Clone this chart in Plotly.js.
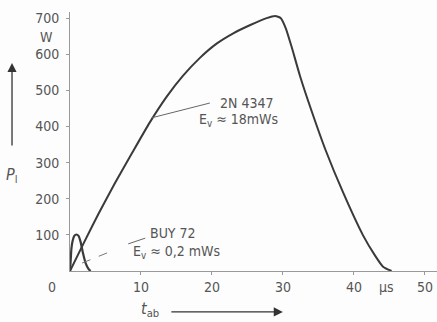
<!DOCTYPE html>
<html><head><meta charset="utf-8">
<script src="https://cdn.plot.ly/plotly-3.0.1.min.js"></script>
<style>html,body{margin:0;padding:0;background:#fdfdfd;}#chart{width:437px;height:322px;}</style>
</head><body><div id="chart"></div>
<script>
// 2N 4347 curve (t in µs, P in W)
const tMain = [0, 2, 4, 6.3, 8.7, 11.2, 13.6, 15.9, 18.3, 20.7, 23, 25.4, 27.7, 28.9, 29.7, 30.4, 31.2, 32.4, 34, 36, 38.5, 41.3, 43, 44.1, 45.3];
const pMain = [0, 80, 158, 242, 325, 410, 482, 540, 590, 630, 658, 681, 700, 706, 700, 672, 622, 540, 445, 335, 216, 98, 42, 12, 0];
// BUY 72 curve
const tBuy = [0, 0.1, 0.2, 0.35, 0.6, 0.9, 1.2, 1.5, 1.8, 2.2, 2.6, 2.9];
const pBuy = [0, 30, 62, 82, 97, 101, 97, 80, 52, 22, 6, 0];
// ticks
const xTicks = [10, 20, 30, 40, 50];
const yTicks = [100, 200, 300, 400, 500, 600, 700];

const FONT = '"DejaVu Sans Condensed", "DejaVu Sans", sans-serif';
const GREY = '#555';
const LINE = '#3a3a3a';

const traces = [
  {x: tMain, y: pMain, mode: 'lines', line: {color: LINE, width: 2, shape: 'spline', smoothing: 0.5}, hoverinfo: 'skip'},
  {x: tBuy, y: pBuy, mode: 'lines', line: {color: LINE, width: 2.2, shape: 'spline', smoothing: 0.6}, hoverinfo: 'skip'}
];

const layout = {
  width: 437, height: 322,
  margin: {l: 70, r: 0, t: 12, b: 51},
  paper_bgcolor: '#fdfdfd', plot_bgcolor: '#fdfdfd',
  showlegend: false,
  font: {family: FONT, size: 14, color: GREY},
  xaxis: {range: [0, 51.7], showgrid: false, zeroline: false, showline: true, linecolor: '#999', linewidth: 1,
          tickmode: 'array', tickvals: xTicks, ticktext: xTicks.map(String), ticks: 'outside', ticklen: 3, tickcolor: '#999',
          tickfont: {family: FONT, size: 14, color: GREY}},
  yaxis: {range: [0, 717], showgrid: false, zeroline: false, showline: true, linecolor: '#999', linewidth: 1,
          tickmode: 'array', tickvals: yTicks, ticktext: yTicks.map(String), ticks: 'outside', ticklen: 3, tickcolor: '#999',
          ticklabelstandoff: 4,
          tickfont: {family: FONT, size: 14, color: GREY}},
  shapes: [
    {type: 'line', xref: 'x', yref: 'y', x0: 11.5, y0: 424, x1: 19.7, y1: 465, line: {color: '#666', width: 1}},
    {type: 'line', xref: 'x', yref: 'y', x0: 1.7, y0: 22, x1: 5.6, y1: 53, line: {color: '#777', width: 1, dash: 'dash'}},
    {type: 'line', xref: 'x', yref: 'y', x0: 8.2, y0: 75, x1: 10.6, y1: 91, line: {color: '#666', width: 1}}
  ],
  annotations: [
    {x: 20.8, y: 465, xref: 'x', yref: 'y', text: '2N 4347', showarrow: false, xanchor: 'left', yanchor: 'middle'},
    {x: 17.9, y: 418, xref: 'x', yref: 'y', text: 'E<sub>v</sub> ≈ 18mWs', showarrow: false, xanchor: 'left', yanchor: 'middle'},
    {x: 11.0, y: 105, xref: 'x', yref: 'y', text: 'BUY 72', showarrow: false, xanchor: 'left', yanchor: 'middle'},
    {x: 8.6, y: 53, xref: 'x', yref: 'y', text: 'E<sub>v</sub> ≈ 0,2 mWs', showarrow: false, xanchor: 'left', yanchor: 'middle'},
    {x: -0.0627, y: 0.9035, xref: 'paper', yref: 'paper', text: 'W', showarrow: false, xanchor: 'center', yanchor: 'middle'},
    {x: -0.049, y: -0.062, xref: 'paper', yref: 'paper', text: '0', showarrow: false, xanchor: 'center', yanchor: 'middle'},
    {x: 44.6, y: -0.062, xref: 'x', yref: 'paper', text: 'µs', showarrow: false, xanchor: 'center', yanchor: 'middle'},
    {x: -0.16, y: 0.37, xref: 'paper', yref: 'paper', text: '<i>P</i><sub>l</sub>', showarrow: false, xanchor: 'center', yanchor: 'middle', font: {size: 16, color: GREY}},
    {x: 0.218, y: -0.147, xref: 'paper', yref: 'paper', text: '<i>t</i><sub>ab</sub>', showarrow: false, xanchor: 'center', yanchor: 'middle', font: {size: 16, color: GREY}},
    {x: -0.158, y: 0.803, xref: 'paper', yref: 'paper', text: '', showarrow: true, arrowhead: 2, arrowsize: 1.4, arrowwidth: 1.3, arrowcolor: '#333', ax: 0, ay: 84},
    {x: 0.580, y: -0.158, xref: 'paper', yref: 'paper', text: '', showarrow: true, arrowhead: 2, arrowsize: 1.4, arrowwidth: 1.3, arrowcolor: '#333', ax: -113, ay: 0}
  ]
};

Plotly.newPlot('chart', traces, layout, {staticPlot: true, displayModeBar: false});
</script></body></html>
